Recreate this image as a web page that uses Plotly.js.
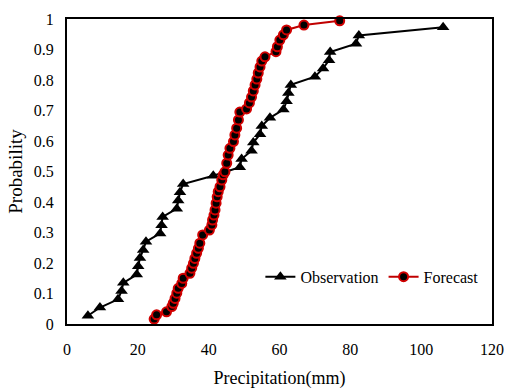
<!DOCTYPE html>
<html>
<head>
<meta charset="utf-8">
<script src="https://cdn.plot.ly/plotly-3.0.1.min.js"></script>
<style>html,body{margin:0;padding:0;background:#fff;}#chart{width:509px;height:392px;}</style>
</head>
<body>
<div id="chart"></div>
<script>
// Observation: precipitation (mm) and cumulative probability
const obsPrecip = [5.9, 9.3, 14.4, 15.4, 15.9, 19.7, 20.1, 20.6, 21.5, 22.3,
  26.3, 26.7, 27.0, 31.0, 31.4, 31.9, 32.8, 41.3, 48.8, 49.3,
  52.1, 52.6, 54.5, 55.0, 57.3, 61.1, 62.0, 62.5, 63.2, 70.0,
  72.3, 74.0, 74.3, 81.6, 82.4, 106.2];
const obsProb = [0.027, 0.054, 0.081, 0.108, 0.135, 0.162, 0.189, 0.216, 0.243, 0.270,
  0.297, 0.324, 0.351, 0.378, 0.405, 0.432, 0.459, 0.486, 0.514, 0.541,
  0.568, 0.595, 0.622, 0.649, 0.676, 0.703, 0.730, 0.757, 0.784, 0.811,
  0.838, 0.865, 0.892, 0.919, 0.946, 0.973];

// Forecast: precipitation (mm) and cumulative probability
const fcPrecip = [24.6, 25.3, 28.1, 29.6, 30.0, 30.5, 31.0, 31.4, 32.4, 32.8,
  34.7, 35.2, 35.7, 36.1, 36.6, 37.1, 37.5, 38.3, 40.2, 40.9,
  41.1, 41.5, 41.8, 42.1, 42.4, 42.7, 43.2, 43.7, 44.1, 44.6,
  45.1, 45.5, 46.0, 47.0, 47.4, 47.9, 48.4, 48.8, 50.7, 51.5,
  52.1, 52.6, 53.1, 53.6, 54.0, 54.5, 55.0, 55.9, 59.0, 59.4,
  60.1, 61.1, 62.0, 66.9, 77.0];
const fcProb = [0.016, 0.030, 0.040, 0.057, 0.068, 0.084, 0.101, 0.117, 0.133, 0.150,
  0.166, 0.183, 0.199, 0.215, 0.232, 0.248, 0.265, 0.292, 0.308, 0.325,
  0.341, 0.357, 0.374, 0.396, 0.417, 0.434, 0.450, 0.472, 0.489, 0.499,
  0.527, 0.554, 0.576, 0.598, 0.620, 0.642, 0.669, 0.695, 0.705, 0.725,
  0.744, 0.764, 0.784, 0.803, 0.823, 0.843, 0.862, 0.876, 0.893, 0.909,
  0.931, 0.948, 0.964, 0.980, 0.994];

const xTicks = [0, 20, 40, 60, 80, 100, 120];
const yTicks = [0, 0.1, 0.2, 0.3, 0.4, 0.5, 0.6, 0.7, 0.8, 0.9, 1];

const serif = 'Liberation Serif, Times New Roman, serif';

const traces = [
  {
    x: obsPrecip, y: obsProb, name: 'Observation', type: 'scatter', mode: 'lines+markers',
    line: {color: '#000000', width: 2},
    marker: {symbol: 'triangle-up', size: 11, color: '#000000'},
    cliponaxis: false
  },
  {
    x: fcPrecip, y: fcProb, name: 'Forecast', type: 'scatter', mode: 'lines+markers',
    line: {color: '#c00000', width: 2},
    marker: {symbol: 'circle', size: 9, color: '#000000', line: {color: '#d00000', width: 2}},
    cliponaxis: false
  }
];

const layout = {
  width: 509, height: 392,
  margin: {l: 67, r: 17, t: 19, b: 68},
  paper_bgcolor: '#ffffff', plot_bgcolor: '#ffffff',
  font: {family: serif, color: '#000000', size: 15},
  showlegend: true,
  legend: {
    x: 0.455, y: 0.155, xanchor: 'left', yanchor: 'middle',
    orientation: 'h', bgcolor: 'rgba(0,0,0,0)',
    font: {family: serif, size: 16, color: '#000000'},
    itemwidth: 30, tracegroupgap: 0
  },
  xaxis: {
    range: [0, 120], tickvals: xTicks, ticktext: xTicks.map(String),
    showgrid: false, zeroline: false, showline: true, mirror: true,
    linecolor: '#000000', linewidth: 2, ticks: '',
    ticklabelstandoff: 10,
    tickfont: {family: serif, size: 16, color: '#000000'},
    title: {text: 'Precipitation(mm)', font: {family: serif, size: 18, color: '#000000'}, standoff: 14}
  },
  yaxis: {
    range: [0, 1], tickvals: yTicks, ticktext: yTicks.map(String),
    showgrid: false, zeroline: false, showline: true, mirror: true,
    linecolor: '#000000', linewidth: 2, ticks: '',
    ticklabelstandoff: 8,
    tickfont: {family: serif, size: 16, color: '#000000'},
    title: {text: 'Probability', font: {family: serif, size: 19, color: '#000000'}, standoff: 6}
  }
};

Plotly.newPlot('chart', traces, layout, {displayModeBar: false, staticPlot: true});
</script>
</body>
</html>
